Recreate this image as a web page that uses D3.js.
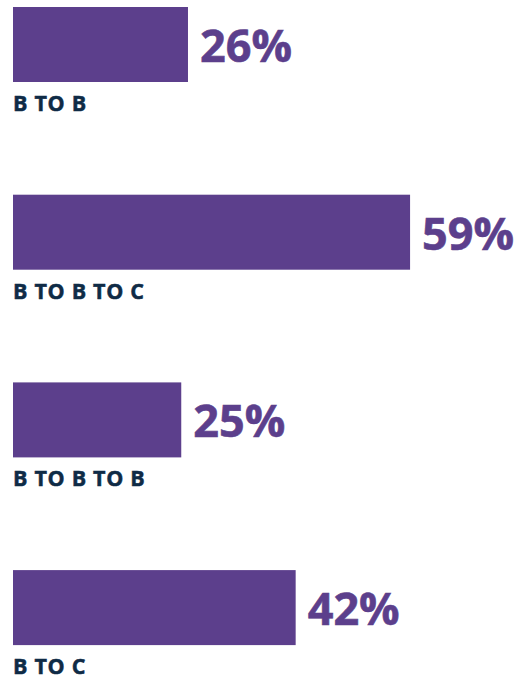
<!DOCTYPE html>
<meta charset="utf-8">
<head>
  <meta charset="utf-8">
  <title>Bars</title>
  <style>
    body { margin: 0; background: #fff; }
    .pct { font-family: "Open Sans", sans-serif; font-weight: 700; fill: #5c3f8c; }
    .cat { font-family: "Open Sans", sans-serif; font-weight: 700; fill: #0f2b46; }
  </style>
</head>
<body>
<div id="chart"></div>
<script src="https://d3js.org/d3.v7.min.js"></script>
<script>
// data
var categories = ["B TO B", "B TO B TO C", "B TO B TO B", "B TO C"];
var values = [26, 59, 25, 42];

var width = 520, height = 680;

var svg = d3.select("#chart")
  .append("svg")
    .attr("width", width)
    .attr("height", height);

var x = d3.scaleLinear()
  .domain([0, 100])
  .range([13, 686]);

// each row: bar then label underneath
var y = d3.scaleBand()
  .domain(categories)
  .range([7, 7 + 4 * 187.7])
  .paddingInner(0);

var barH = 75;

var rows = svg.selectAll(".row")
  .data(categories)
  .enter()
  .append("g")
    .attr("class", "row")
    .attr("transform", function(d) { return "translate(0," + y(d) + ")"; });

rows.append("rect")
  .attr("x", x(0))
  .attr("y", 0)
  .attr("width", function(d, i) { return x(values[i]) - x(0); })
  .attr("height", barH)
  .attr("fill", "#5c3f8c");

rows.append("text")
  .attr("class", "pct")
  .attr("x", function(d, i) { return x(values[i]) + 12; })
  .attr("y", 55)
  .style("font-size", "45px")
  .style("stroke", "#5c3f8c")
  .style("stroke-width", "0.6px")
  .text(function(d, i) { return values[i] + "%"; });

rows.append("text")
  .attr("class", "cat")
  .attr("x", x(0))
  .attr("y", 104)
  .style("font-size", "21.5px")
  .style("letter-spacing", "0.7px")
  .style("stroke", "#0f2b46")
  .style("stroke-width", "0.5px")
  .text(function(d) { return d; });
</script>
</body>
